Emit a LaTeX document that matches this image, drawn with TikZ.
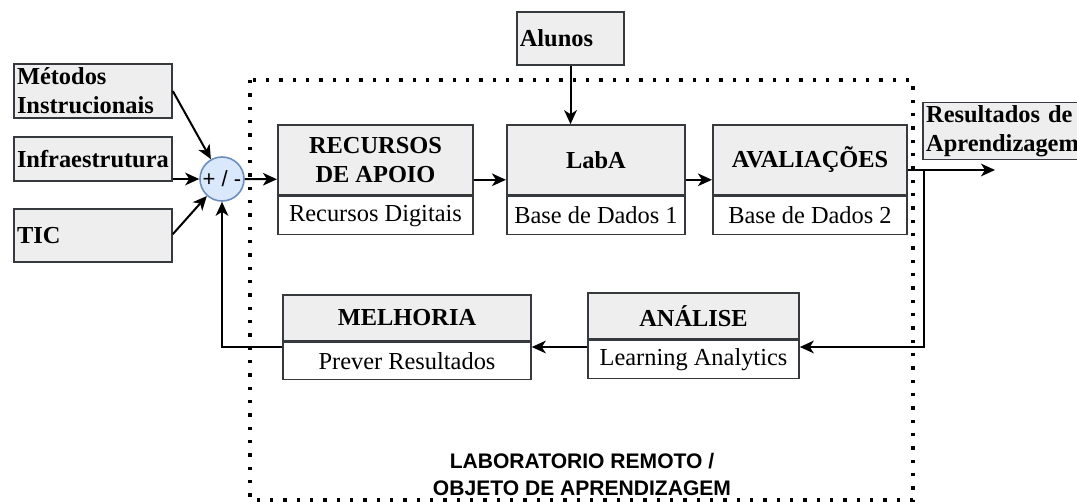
\documentclass[tikz,border=0pt]{standalone}
\usepackage{fontspec}
\setmainfont{Liberation Serif}
\setsansfont{Liberation Sans}
\usepackage{xcolor}
\usetikzlibrary{shapes.geometric, arrows.meta, positioning, fit, calc}

\definecolor{boxgray}{HTML}{EEEEEE}
\definecolor{boxline}{HTML}{36393D}
\definecolor{sumfill}{HTML}{DAE8FC}
\definecolor{sumline}{HTML}{6C8EBF}

\begin{document}
\begin{tikzpicture}[x=0.75pt, y=-0.75pt]
% Define styles
\tikzstyle{inbox} = [rectangle, draw=boxline, fill=boxgray, line width=1.2pt, inner sep=2pt, align=left, font=\fontsize{18.3}{21.8}\selectfont\bfseries]
\tikzstyle{head} = [rectangle, draw=boxline, fill=boxgray, line width=1.2pt, inner sep=0pt, align=center, font=\fontsize{18.3}{21.8}\selectfont\bfseries]
\tikzstyle{sub} = [rectangle, draw=boxline, fill=white, line width=1.2pt, inner sep=0pt, align=center, font=\fontsize{18.3}{21.8}\selectfont]
\tikzstyle{sum} = [circle, draw=sumline, fill=sumfill, line width=1.2pt, minimum size=33pt, inner sep=0pt, font=\sffamily\fontsize{16.5}{18}\selectfont]
\tikzstyle{arrow} = [line width=1.5pt, -{Stealth[length=10.5pt, width=9.5pt, inset=3pt]}]
\tikzstyle{border} = [line width=2.4pt, dash pattern=on 2.4pt off 7.6pt]

\useasboundingbox (0,0) rectangle (1077,503);

% Dotted frame of the lab
\draw[border] (250,80) rectangle (913,500);
\node (title) at (582,474) [align=center, font=\sffamily\bfseries\fontsize{15.8}{20.3}\selectfont] {LABORATORIO REMOTO /\\OBJETO DE APRENDIZAGEM};

% Nodes
\node (metodos) at (93,91) [inbox, minimum width=118.5pt, minimum height=40.5pt, text width=114pt] {Métodos\\Instrucionais};
\node (infra) at (93,159) [inbox, minimum width=118.5pt, minimum height=33pt, text width=114pt] {Infraestrutura};
\node (tic) at (93,235.5) [inbox, minimum width=118.5pt, minimum height=39.75pt, text width=114pt] {TIC};
\node (soma) at (222,179) [sum] {+ / -};
\node (alunos) at (570.5,38.5) [inbox, minimum width=80.25pt, minimum height=39.75pt, text width=76pt] {Alunos};

\node (recursos) at (375.5,160) [head, minimum width=146.25pt, minimum height=52.5pt] {RECURSOS\\DE APOIO};
\node (digitais) [sub, below=0pt of recursos, minimum width=146.25pt, minimum height=28.5pt] {Recursos Digitais};
\node (laba) at (596,160) [head, minimum width=133.5pt, minimum height=52.5pt] {LabA};
\node (dados1) [sub, below=0pt of laba, minimum width=133.5pt, minimum height=28.5pt] {Base de Dados 1};
\node (aval) at (810,160) [head, minimum width=145.5pt, minimum height=52.5pt] {AVALIAÇÕES};
\node (dados2) [sub, below=0pt of aval, minimum width=145.5pt, minimum height=28.5pt] {Base de Dados 2};

\node (resultados) at (1011.5,131) [inbox, minimum width=132.75pt, minimum height=39pt, text width=128pt] {Resultados de\\Aprendizagem};

\node (analise) at (693.5,316) [head, minimum width=158.25pt, minimum height=34.5pt] {ANÁLISE};
\node (analytics) [sub, below=0pt of analise, minimum width=158.25pt, minimum height=28.5pt] {Learning Analytics};
\node (melhoria) at (407,318) [head, minimum width=186pt, minimum height=34.5pt] {MELHORIA};
\node (prever) [sub, below=0pt of melhoria, minimum width=186pt, minimum height=27.75pt] {Prever Resultados};

% whole blocks for the connectors
\node[fit=(recursos) (digitais), inner sep=0pt] (recbox) {};
\node[fit=(laba) (dados1), inner sep=0pt] (lababox) {};
\node[fit=(aval) (dados2), inner sep=0pt] (avalbox) {};
\coordinate (saida) at (995,170);
\coordinate (volta) at (924,347);

% Connections
\draw [arrow] (metodos.east) -- (soma);
\draw [arrow] (infra.east |- soma) -- (soma);
\draw [arrow] ([yshift=1pt]tic.east) -- (soma);
\draw [arrow] (soma) -- (recbox);
\draw [arrow] (recbox) -- (lababox);
\draw [arrow] (lababox) -- (avalbox);
\draw [arrow] (alunos.south) -- (alunos.south |- laba.north);
\draw [arrow] (avalbox.east |- saida) -- (saida);
\draw [arrow] (volta |- saida) -- (volta) -- (analytics.east |- volta);
\draw [arrow] (analytics.west |- volta) -- (prever.east |- volta);
\draw [arrow] (prever.west |- volta) -- (soma |- volta) -- (soma);

\end{tikzpicture}
\end{document}
